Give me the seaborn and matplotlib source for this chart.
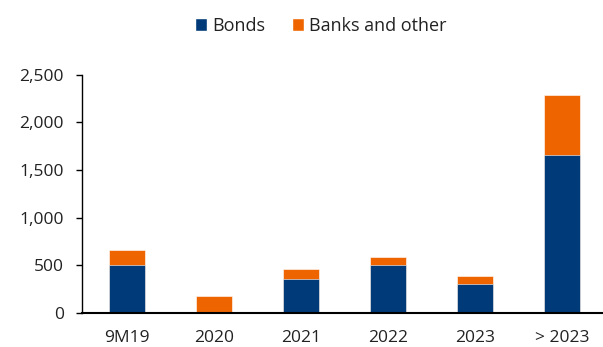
import matplotlib
matplotlib.use("Agg")
import matplotlib.pyplot as plt
import seaborn as sns
import pandas as pd
from matplotlib.patches import Patch

categories = ["9M19", "2020", "2021", "2022", "2023", "> 2023"]
bonds = [500, 0, 355, 500, 305, 1660]
banks_other = [160, 175, 105, 90, 85, 625]
yticks = [0, 500, 1000, 1500, 2000, 2500]
ytick_labels = ["0", "500", "1,000", "1,500", "2,000", "2,500"]

BLUE = "#003A78"
ORANGE = "#EE6500"
TXT = "#222222"
FS = 12.5

sns.set_theme(style="white")
plt.rcParams["font.family"] = ["Open Sans", "DejaVu Sans"]

df = pd.DataFrame({"cat": categories, "bonds": bonds,
                   "total": [b + o for b, o in zip(bonds, banks_other)]})

fig = plt.figure(figsize=(6.03, 3.47), dpi=100)
ax = fig.add_axes([0.136, 0.098, 0.864, 0.687])

sns.barplot(data=df, x="cat", y="total", color=ORANGE, width=0.41,
            saturation=1, edgecolor="white", linewidth=0.4, ax=ax)
sns.barplot(data=df, x="cat", y="bonds", color=BLUE, width=0.41,
            saturation=1, edgecolor="white", linewidth=0.4, ax=ax)

ax.set_xlim(-0.52, 5.47)
ax.set_ylim(0, 2500)
ax.set_yticks(yticks)
ax.set_yticklabels(ytick_labels)
ax.set_xlabel("")
ax.set_ylabel("")
for s in ["top", "right"]:
    ax.spines[s].set_visible(False)
ax.spines["left"].set_color("black")
ax.spines["left"].set_linewidth(1.0)
ax.spines["bottom"].set_color("black")
ax.spines["bottom"].set_linewidth(1.5)
ax.tick_params(axis="y", left=True, length=4, width=1.0, color="black",
               labelsize=FS, labelcolor=TXT, pad=9)
ax.tick_params(axis="x", bottom=False, labelsize=FS, labelcolor=TXT, pad=6)

handles = [Patch(facecolor=BLUE, label="Bonds"),
           Patch(facecolor=ORANGE, label="Banks and other")]
fig.legend(handles=handles, loc="center", bbox_to_anchor=(0.532, 0.926),
           ncol=2, frameon=False, fontsize=13, handlelength=0.65,
           handleheight=0.75, handletextpad=0.3, columnspacing=1.5,
           labelcolor=TXT)

fig.savefig("out.png", dpi=100)
